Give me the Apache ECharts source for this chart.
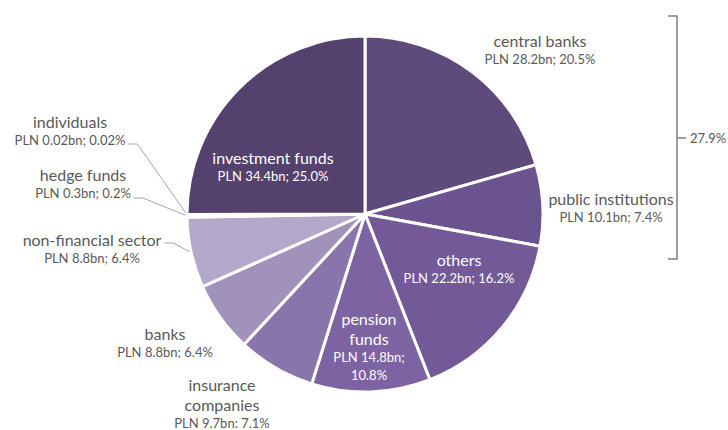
<!DOCTYPE html>
<html>
<head>
<meta charset="utf-8">
<script src="https://cdn.jsdelivr.net/npm/echarts@6/dist/echarts.min.js"></script>
<style>
  html, body { margin: 0; padding: 0; background: #ffffff; }
  #chart { width: 728px; height: 430px; }
</style>
</head>
<body>
<div id="chart"></div>
<script>
// Holders of the debt, clockwise from 12 o'clock
const categories = [
  'central banks', 'public institutions', 'others', 'pension funds',
  'insurance companies', 'banks', 'non-financial sector', 'hedge funds',
  'individuals', 'investment funds'
];
// Name lines as printed on each label
const nameLines = [
  ['central banks'], ['public institutions'], ['others'], ['pension', 'funds'],
  ['insurance', 'companies'], ['banks'], ['non-financial sector'], ['hedge funds'],
  ['individuals'], ['investment funds']
];
// Holdings, PLN bn
const valuesBn = [28.2, 10.1, 22.2, 14.8, 9.7, 8.8, 8.8, 0.3, 0.02, 34.4];
const bnText = ['28.2', '10.1', '22.2', '14.8', '9.7', '8.8', '8.8', '0.3', '0.02', '34.4'];
// Share of total, %
const sharesPct = ['20.5', '7.4', '16.2', '10.8', '7.1', '6.4', '6.4', '0.2', '0.02', '25.0'];
// Separator between amount and share on each label
const separators = ['; ', '; ', '; ', ';\n', ': ', '; ', '; ', '; ', '; ', '; '];
// Slices grouped by the bracket on the right
const bracketGroup = [0, 1];

const colors = ['#5e4a7b', '#6b538f', '#735997', '#7e63a3', '#8a74ac', '#a192bc',
                '#b3a8ca', '#c2b8d8', '#cfc6e2', '#54416e'];

// label styling per slice
const insideIdx = [2, 3, 9];
const leaderIdx = [6, 7, 8];
const labelPos = {
  0: [540, 49], 1: [611, 207], 2: [459, 268], 3: [369, 346],
  4: [222, 403], 5: [165, 342], 6: [92, 248], 7: [83, 183],
  8: [70, 130], 9: [273, 166]
};
// vertical offset of the leader line's end from the label centre
const leaderDy = { 6: -5, 7: 15, 8: 14 };

const gray = '#595959';
const FONT = 'Lato';

function labelText(i) {
  const lines = nameLines[i].map(s => '{n|' + s + '}');
  const valueText = 'PLN ' + bnText[i] + 'bn' + separators[i] + sharesPct[i] + '%';
  valueText.split('\n').forEach(s => lines.push('{v|' + s + '}'));
  return lines.join('\n');
}

const data = categories.map((name, i) => {
  const inside = insideIdx.includes(i);
  const col = inside ? '#ffffff' : gray;
  return {
    name,
    value: valuesBn[i],
    itemStyle: { color: colors[i] },
    label: {
      show: true,
      position: inside ? 'inside' : 'outside',
      formatter: labelText(i),
      align: 'center',
      rich: {
        n: { fontFamily: FONT, fontSize: 16, lineHeight: 20, color: col, align: 'center' },
        v: { fontFamily: FONT, fontSize: 13, lineHeight: 18, color: col, align: 'center' }
      }
    },
    labelLine: {
      show: leaderIdx.includes(i),
      length: 8,
      length2: 10,
      lineStyle: { color: '#a6a6a6', width: 1 }
    }
  };
});

const groupTotal = bracketGroup.reduce((s, i) => s + parseFloat(sharesPct[i]), 0).toFixed(1);

const chart = echarts.init(document.getElementById('chart'), null, { renderer: 'svg' });
chart.setOption({
  backgroundColor: '#ffffff',
  animation: false,
  textStyle: { fontFamily: FONT },
  series: [{
    type: 'pie',
    center: [365, 214],
    radius: 178,
    startAngle: 90,
    clockwise: true,
    avoidLabelOverlap: false,
    minShowLabelAngle: 0,
    itemStyle: { borderColor: '#ffffff', borderWidth: 3 },
    emphasis: { disabled: true },
    labelLayout: function (p) {
      const i = p.dataIndex;
      const pos = labelPos[i];
      const out = { x: pos[0], y: pos[1], align: 'center', verticalAlign: 'middle' };
      if (leaderIdx.includes(i) && p.labelLinePoints) {
        const edge = p.labelLinePoints[0];
        const endX = pos[0] + p.labelRect.width / 2 + 3;
        const endY = pos[1] + leaderDy[i];
        out.labelLinePoints = [edge, [endX + 9, endY], [endX, endY]];
      }
      return out;
    },
    data
  }],
  graphic: [
    {
      type: 'polyline',
      shape: { points: [[668, 16], [677, 16], [677, 259], [668, 259]] },
      style: { stroke: '#7f7f7f', lineWidth: 1.5, fill: null }
    },
    {
      type: 'line',
      shape: { x1: 677, y1: 138, x2: 686, y2: 138 },
      style: { stroke: '#7f7f7f', lineWidth: 1.5 }
    },
    {
      type: 'text',
      x: 690, y: 138,
      style: {
        text: groupTotal + '%', fill: gray, font: '13px ' + FONT,
        verticalAlign: 'middle'
      }
    }
  ]
});
</script>
</body>
</html>
